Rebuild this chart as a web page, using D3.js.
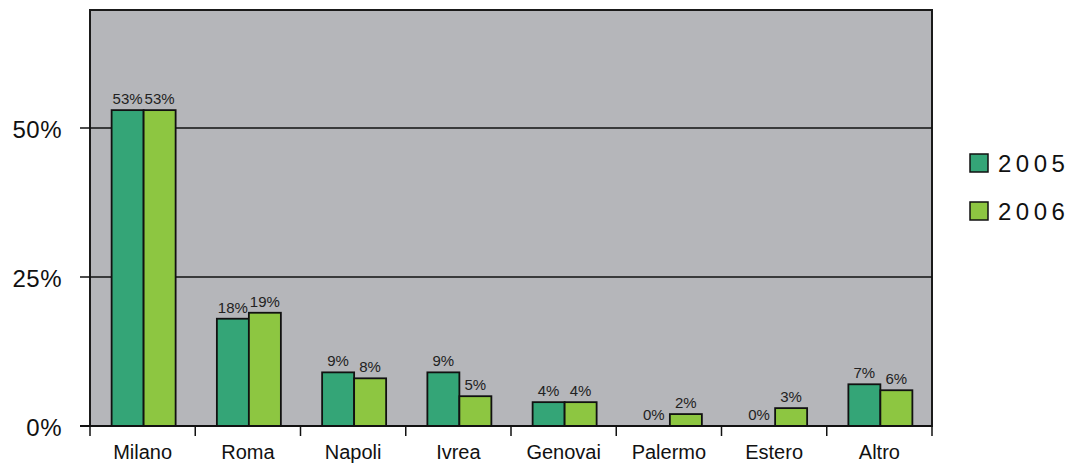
<!DOCTYPE html>
<html>
<head>
<meta charset="utf-8">
<script src="https://cdn.jsdelivr.net/npm/d3@7"></script>
<style>
  html, body { margin: 0; padding: 0; background: #fff; }
  svg { display: block; font-family: "Liberation Sans", Arial, sans-serif; }
</style>
</head>
<body>
<svg id="chart" width="1070" height="463"></svg>
<script>
// Share of offices by city, two years
const categories = ["Milano", "Roma", "Napoli", "Ivrea", "Genovai", "Palermo", "Estero", "Altro"];
const years = ["2005", "2006"];
const values2005 = [53, 18, 9, 9, 4, 0, 0, 7];
const values2006 = [53, 19, 8, 5, 4, 2, 3, 6];
const yTicks = [0, 25, 50];

const colors = { "2005": "#34a577", "2006": "#8dc641" };
const series = { "2005": values2005, "2006": values2006 };

const svg = d3.select("#chart");
const margin = { left: 90, right: 138, top: 10, bottom: 37 };
const W = 1070, H = 463;
const plotW = W - margin.left - margin.right;
const plotH = H - margin.top - margin.bottom;

const g = svg.append("g").attr("transform", `translate(${margin.left},${margin.top})`);

const x = d3.scaleBand().domain(categories).range([0, plotW]).paddingInner(0).paddingOuter(0);
const xInner = d3.scaleBand().domain(years).range([0, 64]);
const y = d3.scaleLinear().domain([0, 69.8]).range([plotH, 0]);

// plot background
g.append("rect")
  .attr("x", 0).attr("y", 0)
  .attr("width", plotW).attr("height", plotH)
  .attr("fill", "#b5b6ba")
  .attr("stroke", "#1a1a1a").attr("stroke-width", 2);

// horizontal gridlines with left ticks
g.selectAll("line.grid")
  .data(yTicks.filter(d => d > 0))
  .join("line")
  .attr("class", "grid")
  .attr("x1", -10).attr("x2", plotW)
  .attr("y1", d => y(d)).attr("y2", d => y(d))
  .attr("stroke", "#111").attr("stroke-width", 1.5);

// y labels
g.selectAll("text.ylab")
  .data(yTicks)
  .join("text")
  .attr("class", "ylab")
  .attr("x", -28)
  .attr("y", d => y(d) + 10)
  .attr("text-anchor", "end")
  .attr("font-size", 24)
  .attr("letter-spacing", 0.5)
  .attr("fill", "#111")
  .text(d => d + "%");

// bars
const groups = g.selectAll("g.cat")
  .data(categories)
  .join("g")
  .attr("class", "cat")
  .attr("transform", d => `translate(${x(d) + (x.bandwidth() - 64) / 2 + 1},0)`);

groups.each(function(cat, i) {
  const grp = d3.select(this);
  years.forEach(yr => {
    const v = series[yr][i];
    if (v > 0) {
      grp.append("rect")
        .attr("x", xInner(yr))
        .attr("y", y(v))
        .attr("width", xInner.bandwidth())
        .attr("height", plotH - y(v))
        .attr("fill", colors[yr])
        .attr("stroke", "#111").attr("stroke-width", 1.8);
    }
    grp.append("text")
      .attr("x", xInner(yr) + xInner.bandwidth() / 2)
      .attr("y", y(v) - 6)
      .attr("text-anchor", "middle")
      .attr("font-size", 15)
      .attr("fill", "#222")
      .text(v + "%");
  });
});

// bottom axis line with ticks at band edges
g.append("line")
  .attr("x1", -10).attr("x2", plotW)
  .attr("y1", plotH).attr("y2", plotH)
  .attr("stroke", "#111").attr("stroke-width", 2);

const edges = categories.map(c => x(c)).concat([plotW]);
g.selectAll("line.xtick")
  .data(edges)
  .join("line")
  .attr("class", "xtick")
  .attr("x1", d => d).attr("x2", d => d)
  .attr("y1", plotH).attr("y2", plotH + 10)
  .attr("stroke", "#111").attr("stroke-width", 1.5);

g.selectAll("text.xlab")
  .data(categories)
  .join("text")
  .attr("class", "xlab")
  .attr("x", d => x(d) + x.bandwidth() / 2)
  .attr("y", plotH + 33)
  .attr("text-anchor", "middle")
  .attr("font-size", 20)
  .attr("fill", "#111")
  .text(d => d);

// legend
const legend = svg.append("g").attr("transform", "translate(970,154)");
years.forEach((yr, i) => {
  const lg = legend.append("g").attr("transform", `translate(0,${i * 48})`);
  lg.append("rect")
    .attr("width", 18).attr("height", 18)
    .attr("fill", colors[yr])
    .attr("stroke", "#111").attr("stroke-width", 1.5);
  lg.append("text")
    .attr("x", 28).attr("y", 18)
    .attr("font-size", 24)
    .attr("letter-spacing", 4.5)
    .attr("fill", "#111")
    .text(yr);
});
</script>
</body>
</html>
